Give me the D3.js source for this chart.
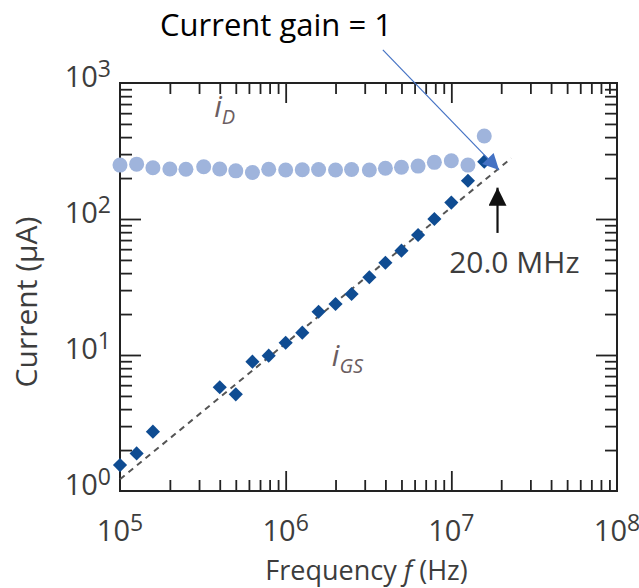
<!DOCTYPE html>
<html lang="en">
<head>
  <meta charset="UTF-8">
  <title>Current gain vs frequency</title>
  <script src="https://d3js.org/d3.v7.min.js"></script>
  <style>
    body { margin: 0; padding: 0; background: #fff; font-family: "Open Sans", sans-serif; }
    svg { display: block; }
  </style>
</head>
<body>
  <svg id="chart" width="639" height="588"></svg>

  <script>
    // i_D (light circles) and i_GS (dark diamonds), frequency in Hz, current in µA
    const idFreq = [1.0e5, 1.26e5, 1.58e5, 2.0e5, 2.5e5, 3.2e5, 4.0e5, 5.0e5, 6.3e5, 7.9e5, 1.0e6, 1.26e6,
                    1.58e6, 2.0e6, 2.5e6, 3.2e6, 4.0e6, 5.0e6, 6.3e6, 7.9e6, 1.0e7, 1.26e7, 1.58e7];
    const idCurrent = [249, 253, 238, 233, 232, 242, 233, 226, 220, 232, 229, 230,
                       231, 229, 231, 229, 236, 240, 245, 261, 268, 249, 408];

    const igsFreq = [1.0e5, 1.26e5, 1.58e5, 4.0e5, 5.0e5, 6.3e5, 7.9e5, 1.0e6, 1.26e6, 1.58e6,
                     2.0e6, 2.5e6, 3.2e6, 4.0e6, 5.0e6, 6.3e6, 7.9e6, 1.0e7, 1.26e7, 1.58e7];
    const igsCurrent = [1.55, 1.89, 2.73, 5.79, 5.14, 8.93, 9.89, 12.3, 14.6, 20.8,
                        23.7, 28.1, 37.3, 47.7, 58.5, 76.3, 100, 132, 191, 264];

    // dashed fit line (slope 1) ends
    const fitFreq = [1.0e5, 2.3e7];
    const fitCurrent = [1.22, 280];

    const xTicks = [1e5, 1e6, 1e7, 1e8];
    const xTickExp = ["5", "6", "7", "8"];
    const yTicks = [1, 10, 100, 1000];
    const yTickExp = ["0", "1", "2", "3"];

    const margin = {top: 83, right: 22, bottom: 97, left: 120},
          width = 639 - margin.left - margin.right,
          height = 588 - margin.top - margin.bottom;

    const svg = d3.select("#chart");
    const defs = svg.append("defs");
    defs.append("marker")
      .attr("id", "blueHead")
      .attr("viewBox", "0 0 10 10").attr("refX", 10).attr("refY", 5)
      .attr("markerWidth", 20).attr("markerHeight", 16)
      .attr("markerUnits", "userSpaceOnUse")
      .attr("orient", "auto")
      .append("path").attr("d", "M0,0 L10,5 L0,10 Z").attr("fill", "#4472c4");
    defs.append("marker")
      .attr("id", "blackHead")
      .attr("viewBox", "0 0 10 10").attr("refX", 10).attr("refY", 5)
      .attr("markerWidth", 18).attr("markerHeight", 18)
      .attr("markerUnits", "userSpaceOnUse")
      .attr("orient", "auto")
      .append("path").attr("d", "M0,0 L10,5 L0,10 Z").attr("fill", "#111");

    const g = svg.append("g").attr("transform", `translate(${margin.left},${margin.top})`);

    const x = d3.scaleLog().domain([1e5, 1e8]).range([0, width]);
    const y = d3.scaleLog().domain([1, 1000]).range([height, 0]);

    const minorOf = majors => majors.slice(0, -1).flatMap(v => d3.range(2, 10).map(m => m * v));
    const xMinor = minorOf(xTicks), yMinor = minorOf(yTicks);
    const xMid = xTicks.slice(1, -1), yMid = yTicks.slice(1, -1);

    function ticks(axisFn, scale, values, size, transform) {
      const a = g.append("g")
        .attr("transform", transform || null)
        .call(axisFn(scale).tickValues(values).tickSize(size).tickFormat(""));
      a.select(".domain").remove();
      a.selectAll("line").attr("stroke", "#222").attr("stroke-width", 1.8);
    }
    ticks(d3.axisBottom, x, xMinor, -11, `translate(0,${height})`);
    ticks(d3.axisBottom, x, xMid, -20, `translate(0,${height})`);
    ticks(d3.axisTop, x, xMinor, -11);
    ticks(d3.axisTop, x, xMid, -20);
    ticks(d3.axisLeft, y, yMinor, -12);
    ticks(d3.axisLeft, y, yMid, -21);
    ticks(d3.axisRight, y, yMinor, -12, `translate(${width},0)`);
    ticks(d3.axisRight, y, yMid, -21, `translate(${width},0)`);

    g.append("rect")
      .attr("width", width).attr("height", height)
      .attr("fill", "none").attr("stroke", "#222").attr("stroke-width", 2);

    // tick labels with superscripts
    const labelColor = "#3d3d3d";
    g.selectAll(".xlab").data(xTicks).enter().append("text")
      .attr("class", "xlab")
      .attr("x", d => x(d)).attr("y", height + 50)
      .attr("text-anchor", "middle")
      .attr("fill", labelColor).style("font-size", "29px")
      .each(function(d, i) {
        const t = d3.select(this);
        t.append("tspan").text("10");
        t.append("tspan").attr("dy", -10).style("font-size", "23px").text(xTickExp[i]);
      });

    g.selectAll(".ylab").data(yTicks).enter().append("text")
      .attr("class", "ylab")
      .attr("x", -9).attr("y", d => y(d) + 4)
      .attr("text-anchor", "end")
      .attr("fill", labelColor).style("font-size", "29px")
      .each(function(d, i) {
        const t = d3.select(this);
        t.append("tspan").text("10");
        t.append("tspan").attr("dy", -10).style("font-size", "23px").text(yTickExp[i]);
      });

    // axis titles
    const xt = svg.append("text")
      .attr("x", margin.left + width / 2 - 2).attr("y", 580)
      .attr("text-anchor", "middle")
      .attr("fill", labelColor).style("font-size", "27px");
    xt.append("tspan").text("Frequency ");
    xt.append("tspan").style("font-style", "italic").text("f");
    xt.append("tspan").text(" (Hz)");

    svg.append("text")
      .attr("transform", "translate(37,302) rotate(-90)")
      .attr("text-anchor", "middle")
      .attr("fill", labelColor).style("font-size", "30px")
      .text("Current (\u03bcA)");

    // dashed unity-gain line
    const fitLine = d3.line().x(d => x(d[0])).y(d => y(d[1]));
    g.append("path")
      .datum(d3.zip(fitFreq, fitCurrent))
      .attr("d", fitLine)
      .attr("fill", "none").attr("stroke", "#555")
      .attr("stroke-width", 2).attr("stroke-dasharray", "6,5");

    // i_D circles
    g.selectAll(".id").data(d3.zip(idFreq, idCurrent)).enter().append("circle")
      .attr("class", "id")
      .attr("cx", d => x(d[0])).attr("cy", d => y(d[1]))
      .attr("r", 7.5).attr("fill", "#9fb4dc");

    // i_GS diamonds
    g.selectAll(".igs").data(d3.zip(igsFreq, igsCurrent)).enter().append("path")
      .attr("class", "igs")
      .attr("transform", d => `translate(${x(d[0])},${y(d[1])}) rotate(45)`)
      .attr("d", d3.symbol().type(d3.symbolSquare).size(100))
      .attr("fill", "#0f4c92");

    // series labels
    const seriesColor = "#6b5d61";
    const idLab = g.append("text")
      .attr("x", x(3.7e5)).attr("y", y(560))
      .attr("fill", seriesColor).style("font-size", "30px").style("font-style", "italic");
    idLab.append("tspan").text("i");
    idLab.append("tspan").attr("dy", 7).style("font-size", "20px").text("D");

    const gsLab = g.append("text")
      .attr("x", x(1.9e6)).attr("y", y(8.3))
      .attr("fill", seriesColor).style("font-size", "30px").style("font-style", "italic");
    gsLab.append("tspan").text("i");
    gsLab.append("tspan").attr("dy", 7).style("font-size", "20px").text("GS");

    // 20 MHz arrow + label
    g.append("line")
      .attr("x1", x(1.9e7)).attr("x2", x(1.9e7))
      .attr("y1", y(79)).attr("y2", y(170))
      .attr("stroke", "#111").attr("stroke-width", 2.2)
      .attr("marker-end", "url(#blackHead)");
    g.append("text")
      .attr("x", x(2.4e7)).attr("y", y(40))
      .attr("text-anchor", "middle")
      .attr("fill", labelColor).style("font-size", "30px")
      .text("20.0 MHz");

    // "Current gain = 1" annotation
    g.append("line")
      .attr("x1", x(3.86e6)).attr("y1", y(1750))
      .attr("x2", x(1.94e7)).attr("y2", y(229))
      .attr("stroke", "#4472c4").attr("stroke-width", 1.2)
      .attr("marker-end", "url(#blueHead)");
    svg.append("text")
      .attr("x", 276).attr("y", 36)
      .attr("text-anchor", "middle")
      .attr("fill", "#000").style("font-size", "31px")
      .text("Current gain = 1");
  </script>
</body>
</html>
